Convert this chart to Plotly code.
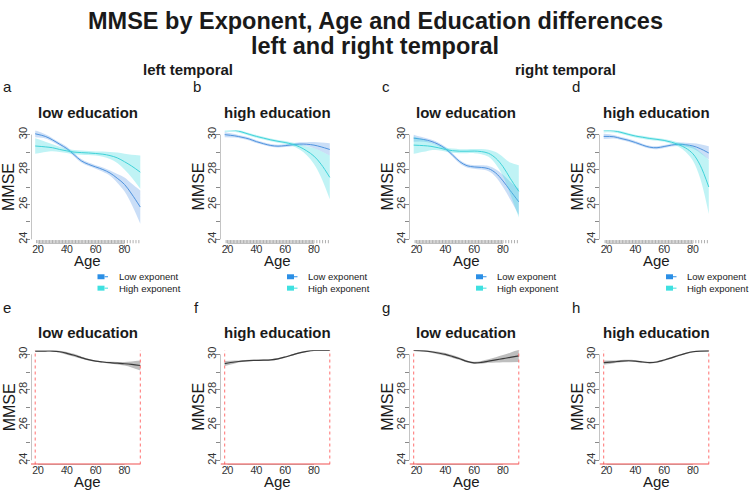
import plotly.graph_objects as go

# ---------------- data ----------------
AGES = [18, 25, 30, 35, 40, 45, 50, 55, 60, 65, 70, 75, 80, 85, 91]

# panel a: left temporal, low education
A_LOW = [30.05, 29.9, 29.7, 29.45, 29.2, 28.85, 28.5, 28.3, 28.15, 28.0, 27.8, 27.5, 27.15, 26.6, 25.85]
A_LOW_HW = [0.2, 0.12, 0.1, 0.1, 0.1, 0.1, 0.1, 0.1, 0.1, 0.12, 0.15, 0.25, 0.4, 0.6, 0.95]
A_HIGH = [29.35, 29.3, 29.25, 29.15, 29.07, 29.0, 28.97, 28.95, 28.92, 28.88, 28.8, 28.67, 28.45, 28.2, 27.85]
A_HIGH_HW = [0.45, 0.3, 0.2, 0.15, 0.12, 0.12, 0.12, 0.12, 0.12, 0.15, 0.2, 0.3, 0.45, 0.65, 0.95]
# panel b: left temporal, high education
B_LOW = [30.0, 29.93, 29.85, 29.75, 29.6, 29.48, 29.38, 29.34, 29.37, 29.42, 29.46, 29.45, 29.4, 29.3, 29.15]
B_LOW_HW = [0.15, 0.1, 0.08, 0.08, 0.08, 0.08, 0.08, 0.08, 0.08, 0.08, 0.1, 0.12, 0.18, 0.25, 0.35]
B_HIGH = [30.3, 30.25, 30.15, 30.02, 29.9, 29.8, 29.7, 29.62, 29.55, 29.45, 29.3, 29.07, 28.77, 28.3, 27.55]
B_HIGH_HW = [0.15, 0.1, 0.08, 0.08, 0.08, 0.08, 0.08, 0.08, 0.08, 0.1, 0.15, 0.25, 0.45, 0.75, 1.25]
# panel c: right temporal, low education
C_LOW = [29.8, 29.72, 29.62, 29.45, 29.2, 28.83, 28.45, 28.22, 28.15, 28.12, 28.05, 27.8, 27.35, 26.8, 26.15]
C_LOW_HW = [0.2, 0.12, 0.1, 0.1, 0.1, 0.1, 0.1, 0.1, 0.1, 0.12, 0.15, 0.22, 0.35, 0.5, 0.75]
C_HIGH = [29.4, 29.37, 29.33, 29.25, 29.15, 29.08, 29.05, 29.05, 29.06, 29.03, 28.93, 28.65, 28.17, 27.5, 26.75]
C_HIGH_HW = [0.5, 0.35, 0.22, 0.15, 0.12, 0.12, 0.12, 0.12, 0.12, 0.15, 0.2, 0.35, 0.55, 0.9, 1.5]
# panel d: right temporal, high education
D_LOW = [29.9, 29.88, 29.78, 29.68, 29.55, 29.4, 29.28, 29.25, 29.32, 29.4, 29.45, 29.42, 29.35, 29.2, 28.95]
D_LOW_HW = [0.15, 0.1, 0.08, 0.08, 0.08, 0.08, 0.08, 0.08, 0.08, 0.08, 0.1, 0.12, 0.15, 0.25, 0.38]
D_HIGH = [30.25, 30.22, 30.13, 30.02, 29.92, 29.85, 29.78, 29.73, 29.67, 29.57, 29.43, 29.23, 28.9, 28.25, 27.0]
D_HIGH_HW = [0.12, 0.1, 0.08, 0.08, 0.08, 0.08, 0.08, 0.08, 0.08, 0.1, 0.12, 0.22, 0.4, 0.75, 1.55]

# panels e-h: difference smooths
E_DIFF = [30.19, 30.19, 30.19, 30.15, 30.06, 29.95, 29.82, 29.7, 29.62, 29.57, 29.53, 29.5, 29.47, 29.43, 29.37]
E_HW = [0.02, 0.02, 0.03, 0.06, 0.08, 0.08, 0.06, 0.05, 0.04, 0.04, 0.05, 0.07, 0.1, 0.17, 0.28]
F_DIFF = [29.48, 29.57, 29.62, 29.65, 29.66, 29.67, 29.69, 29.75, 29.85, 29.97, 30.09, 30.17, 30.22, 30.23, 30.23]
F_HW = [0.14, 0.08, 0.05, 0.04, 0.04, 0.04, 0.04, 0.04, 0.04, 0.04, 0.04, 0.03, 0.03, 0.02, 0.02]
G_DIFF = [30.22, 30.2, 30.15, 30.08, 30.0, 29.88, 29.75, 29.6, 29.52, 29.55, 29.62, 29.69, 29.76, 29.83, 29.92]
G_HW = [0.03, 0.04, 0.05, 0.07, 0.08, 0.08, 0.07, 0.06, 0.06, 0.08, 0.1, 0.15, 0.2, 0.27, 0.35]
H_DIFF = [29.53, 29.58, 29.62, 29.64, 29.62, 29.57, 29.53, 29.57, 29.68, 29.8, 29.94, 30.06, 30.15, 30.19, 30.2]
H_HW = [0.12, 0.08, 0.06, 0.05, 0.05, 0.05, 0.05, 0.05, 0.05, 0.05, 0.05, 0.04, 0.04, 0.03, 0.03]

# observed participant ages (rug)
RUG_AGES = [19, 20, 21, 22, 23, 24, 25, 26, 27, 28, 29, 30, 31, 32, 33, 34, 35, 36, 37, 38,
             39, 40, 41, 42, 43, 44, 45, 46, 47, 48, 49, 50, 51, 52, 53, 54, 55, 56, 57, 58,
             59, 60, 61, 62, 63, 64, 65, 66, 67, 68, 69, 70, 71, 72, 73, 74, 75, 76, 77, 78,
             79, 80, 82, 84, 86, 88, 90]
SIG_RANGE = [18, 91]

X_TICKS = [20, 40, 60, 80]
Y_TICKS = [24, 25, 26, 27, 28, 29, 30]
Y_TICKTEXT = ["24", "", "26", "", "28", "", "30"]

TOP_PANELS = [
    ("a", "low education", A_LOW, A_LOW_HW, A_HIGH, A_HIGH_HW),
    ("b", "high education", B_LOW, B_LOW_HW, B_HIGH, B_HIGH_HW),
    ("c", "low education", C_LOW, C_LOW_HW, C_HIGH, C_HIGH_HW),
    ("d", "high education", D_LOW, D_LOW_HW, D_HIGH, D_HIGH_HW),
]
BOTTOM_PANELS = [
    ("e", "low education", E_DIFF, E_HW),
    ("f", "high education", F_DIFF, F_HW),
    ("g", "low education", G_DIFF, G_HW),
    ("h", "high education", H_DIFF, H_HW),
]
LEGEND_LABELS = ["Low exponent", "High exponent"]

# ---------------- style / layout ----------------
W, H = 750, 491
FONT = "Liberation Sans, Arial, Helvetica, sans-serif"
XR = [15.08, 93.92]
YR = [23.76, 30.24]
COL_LEFT = [31, 220.5, 409.5, 599.5]
PW = 113.5
ROWS = [(127.5, 241.5), (349.0, 464.3)]
BLUE_LINE = "#4f93de"
BLUE_FILL = "rgba(80,145,230,0.30)"
CYAN_LINE = "#3fd2d8"
CYAN_FILL = "rgba(64,220,224,0.33)"
AX_COL = "#8a8a8a"
TXT = "#1a1a1a"


def px_x(p):
    return p / W


def px_y(p):
    return 1 - p / H


fig = go.Figure()
layout = dict(width=W, height=H, margin=dict(l=0, r=0, t=0, b=0),
              paper_bgcolor="white", plot_bgcolor="white", showlegend=False,
              font=dict(family=FONT, color=TXT))
annotations = []
shapes = []


def band(xa, ya, mean, hw, line_col, fill_col, lw=1.0):
    upper = [m + h for m, h in zip(mean, hw)]
    lower = [m - h for m, h in zip(mean, hw)]
    fig.add_trace(go.Scatter(x=AGES, y=lower, mode="lines", line=dict(width=0, shape="spline", smoothing=1.0),
                             xaxis=xa, yaxis=ya, hoverinfo="skip"))
    fig.add_trace(go.Scatter(x=AGES, y=upper, mode="lines", line=dict(width=0, shape="spline", smoothing=1.0),
                             fill="tonexty", fillcolor=fill_col, xaxis=xa, yaxis=ya, hoverinfo="skip"))
    fig.add_trace(go.Scatter(x=AGES, y=mean, mode="lines",
                             line=dict(width=lw, color=line_col, shape="spline", smoothing=1.0),
                             xaxis=xa, yaxis=ya))


def setup_axes(idx, col, row):
    top, bot = ROWS[row]
    left = COL_LEFT[col]
    xname = "xaxis" if idx == 1 else f"xaxis{idx}"
    yname = "yaxis" if idx == 1 else f"yaxis{idx}"
    xa = "x" if idx == 1 else f"x{idx}"
    ya = "y" if idx == 1 else f"y{idx}"
    layout[xname] = dict(domain=[px_x(left), px_x(left + PW)], range=XR, anchor=ya,
                         tickvals=X_TICKS, ticks="outside", ticklen=4, tickcolor=AX_COL,
                         ticklabelstandoff=-8,
                         showline=False, showgrid=False, zeroline=False,
                         tickfont=dict(size=10.5, color="#333", family=FONT))
    layout[yname] = dict(domain=[px_y(bot), px_y(top)], range=YR, anchor=xa,
                         tickvals=Y_TICKS, ticktext=Y_TICKTEXT, tickangle=-90,
                         ticks="outside", ticklen=4, tickcolor=AX_COL,
                         ticklabelstandoff=-5,
                         showline=False, showgrid=False, zeroline=False,
                         tickfont=dict(size=11, color="#333", family=FONT))
    # R-style axis lines spanning the tick range only
    shapes.append(dict(type="line", xref=xa, yref=ya, x0=XR[0], x1=XR[0], y0=24, y1=30,
                       line=dict(color=AX_COL, width=1)))
    shapes.append(dict(type="line", xref=xa, yref=ya, x0=20, x1=80, y0=YR[0], y1=YR[0],
                       line=dict(color=AX_COL, width=1)))
    cx = left + PW / 2
    cy = (top + bot) / 2
    annotations.append(dict(text="Age", x=px_x(cx), y=px_y(bot + 17.5), xref="paper", yref="paper",
                            showarrow=False, font=dict(size=15, family=FONT, color=TXT), borderpad=0,
                            xanchor="center", yanchor="middle"))
    annotations.append(dict(text="MMSE", x=px_x(left - 22), y=px_y(cy), xref="paper", yref="paper",
                            showarrow=False, textangle=-90, font=dict(size=16, family=FONT, color=TXT),
                            borderpad=0, xanchor="center", yanchor="middle"))
    return xa, ya


idx = 1
for col, (letter, title, low, low_hw, high, high_hw) in enumerate(TOP_PANELS):
    xa, ya = setup_axes(idx, col, 0)
    band(xa, ya, low, low_hw, BLUE_LINE, BLUE_FILL)
    band(xa, ya, high, high_hw, CYAN_LINE, CYAN_FILL)
    # rug of observed ages
    rx, ry = [], []
    for a in RUG_AGES:
        rx += [a, a, None]
        ry += [YR[0], YR[0] + 0.2, None]
    fig.add_trace(go.Scatter(x=rx, y=ry, mode="lines", line=dict(color="#9a9a9a", width=0.8),
                             xaxis=xa, yaxis=ya, hoverinfo="skip"))
    left = COL_LEFT[col]
    annotations.append(dict(text=f"<b>{title}</b>", x=px_x(left + PW / 2), y=px_y(109.8),
                            xref="paper", yref="paper", showarrow=False,
                            font=dict(size=15, family=FONT, color=TXT), xanchor="center", yanchor="middle"))
    annotations.append(dict(text=letter, x=px_x(left - 24), y=px_y(83.1), xref="paper", yref="paper",
                            showarrow=False, font=dict(size=15, family=FONT, color=TXT),
                            xanchor="center", yanchor="middle"))
    # legend
    for k, lab in enumerate(LEGEND_LABELS):
        yy = 275 + k * 11.5
        sw = "#2b8fe6" if k == 0 else "#3fe0e0"
        shapes.append(dict(type="rect", xref="paper", yref="paper",
                           x0=px_x(left + 66.5), x1=px_x(left + 73.5), y0=px_y(yy + 2.5), y1=px_y(yy - 2.5),
                           fillcolor=sw, line=dict(width=0)))
        shapes.append(dict(type="line", xref="paper", yref="paper",
                           x0=px_x(left + 73.5), x1=px_x(left + 77), y0=px_y(yy), y1=px_y(yy),
                           line=dict(color=sw, width=1)))
        annotations.append(dict(text=lab, x=px_x(left + 85.5), y=px_y(yy), xref="paper", yref="paper",
                                showarrow=False, font=dict(size=9.5, family=FONT, color=TXT),
                                xanchor="left", yanchor="middle"))
    idx += 1

for col, (letter, title, diff, hw) in enumerate(BOTTOM_PANELS):
    xa, ya = setup_axes(idx, col, 1)
    band(xa, ya, diff, hw, "#3a3a3a", "rgba(110,110,110,0.45)", lw=1.2)
    for sx in SIG_RANGE:
        shapes.append(dict(type="line", xref=xa, yref=ya, x0=sx, x1=sx, y0=YR[0], y1=YR[1],
                           line=dict(color="#ff7070", width=1, dash="dot")))
    shapes.append(dict(type="line", xref=xa, yref=ya, x0=XR[0], x1=SIG_RANGE[1], y0=YR[0], y1=YR[0],
                       line=dict(color="#f05050", width=2)))
    left = COL_LEFT[col]
    annotations.append(dict(text=f"<b>{title}</b>", x=px_x(left + PW / 2), y=px_y(331.5),
                            xref="paper", yref="paper", showarrow=False,
                            font=dict(size=15, family=FONT, color=TXT), xanchor="center", yanchor="middle"))
    annotations.append(dict(text=letter, x=px_x(left - 24), y=px_y(305.8), xref="paper", yref="paper",
                            showarrow=False, font=dict(size=15, family=FONT, color=TXT),
                            xanchor="center", yanchor="middle"))
    idx += 1

# titles
annotations.append(dict(text="<b>MMSE by Exponent, Age and Education differences</b>", x=0.5, y=px_y(17),
                        xref="paper", yref="paper", showarrow=False,
                        font=dict(size=23.5, family=FONT, color=TXT), xanchor="center", yanchor="middle"))
annotations.append(dict(text="<b>left and right temporal</b>", x=0.5, y=px_y(42),
                        xref="paper", yref="paper", showarrow=False,
                        font=dict(size=23.5, family=FONT, color=TXT), xanchor="center", yanchor="middle"))
annotations.append(dict(text="<b>left temporal</b>", x=px_x(187.5), y=px_y(66.5),
                        xref="paper", yref="paper", showarrow=False,
                        font=dict(size=15, family=FONT, color=TXT), xanchor="center", yanchor="middle"))
annotations.append(dict(text="<b>right temporal</b>", x=px_x(565), y=px_y(66.5),
                        xref="paper", yref="paper", showarrow=False,
                        font=dict(size=15, family=FONT, color=TXT), xanchor="center", yanchor="middle"))

layout["annotations"] = annotations
layout["shapes"] = shapes
fig.update_layout(**layout)
fig.write_html("out.html")
